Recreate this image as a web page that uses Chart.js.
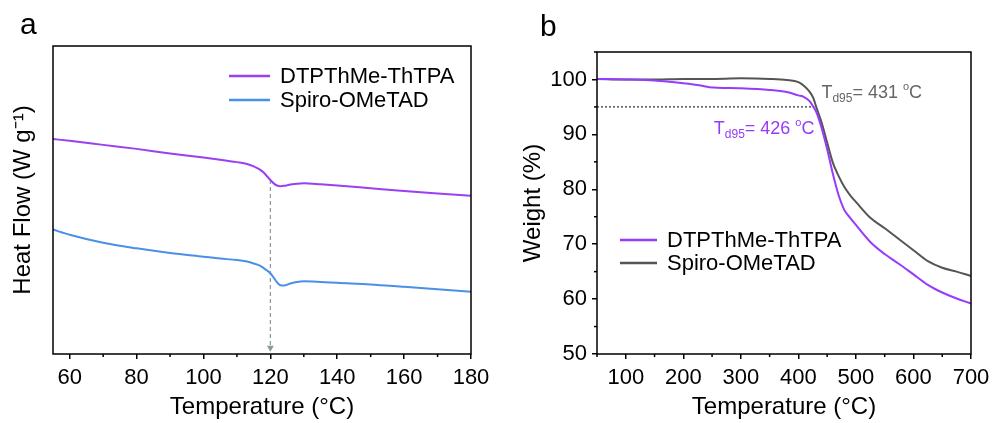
<!DOCTYPE html>
<html>
<head>
<meta charset="utf-8">
<script src="https://cdn.jsdelivr.net/npm/chart.js@4.4.1/dist/chart.umd.min.js"></script>
<style>
html, body { margin: 0; padding: 0; background: #fff; }
#wrap { position: relative; width: 992px; height: 423px; }
.pane { position: absolute; top: 0; width: 496px; height: 423px; }
</style>
</head>
<body>
<div id="wrap">
    <div class="pane" style="left:0"><canvas id="dscChart" width="496" height="423"></canvas></div>
    <div class="pane" style="left:496px"><canvas id="tgaChart" width="496" height="423"></canvas></div>
</div>
<script>
// panel a - DSC (heat flow, arbitrary units)
const dscTemp = [55, 60, 70, 80, 90, 100, 105, 110, 113, 115, 117, 118, 119, 120, 121, 122, 123, 124, 126, 128, 130, 135, 140, 150, 160, 170, 180];
const dscDTP = [69.8, 69.2, 67.9, 66.6, 65.1, 63.8, 63.1, 62.3, 61.7, 60.9, 59.8, 58.9, 57.7, 56.5, 55.4, 54.7, 54.5, 54.6, 55.0, 55.3, 55.4, 55.1, 54.7, 53.8, 52.9, 52.1, 51.4];
const dscSpiro = [40.4, 38.7, 36.1, 34.3, 32.8, 31.6, 31.0, 30.5, 30.0, 29.4, 28.6, 27.9, 27.1, 26.2, 24.8, 23.3, 22.3, 22.2, 22.9, 23.4, 23.6, 23.4, 23.1, 22.6, 21.8, 21.0, 20.2];
const dscXTicks = [60, 80, 100, 120, 140, 160, 180];
const tgMarker = 120;
const tgArrowY = [56.5, 2];

// panel b - TGA (weight %)
const tgaTemp = [50, 100, 150, 200, 230, 245, 300, 350, 380, 400, 410, 420, 426, 431, 440, 450, 460, 470, 480, 490, 500, 525, 550, 575, 600, 625, 650, 675, 700];
const tgaDTP = [100.1, 100.0, 99.8, 99.3, 98.9, 98.6, 98.4, 98.1, 97.7, 97.1, 96.8, 96.0, 95.0, 94.1, 91.3, 87.3, 82.8, 78.9, 76.2, 74.8, 73.5, 70.4, 68.2, 66.4, 64.5, 62.6, 61.2, 60.1, 59.2];
const tgaSpiro = [100.1, 100.0, 100.0, 100.1, 100.1, 100.1, 100.2, 100.1, 99.9, 99.5, 98.8, 97.7, 96.6, 95.0, 92.3, 88.5, 84.8, 82.4, 80.4, 78.9, 77.7, 74.8, 72.9, 70.9, 68.9, 66.9, 65.7, 65.0, 64.2];
const tgaXTicks = [100, 200, 300, 400, 500, 600, 700];
const tgaYTicks = [50, 60, 70, 80, 90, 100];
const d95Level = 95;
const d95Span = [50, 428];
const td95Spiro = 431;
const td95DTP = 426;

const seriesNames = ['DTPThMe-ThTPA', 'Spiro-OMeTAD'];

const FONT = "'Liberation Sans', Arial, sans-serif";
Chart.defaults.font.family = FONT;
Chart.defaults.color = '#000';

const pts = (xs, ys) => xs.map((x, i) => ({x: x, y: ys[i]}));

const curve = (label, xs, ys, color) => ({
    label: label,
    data: pts(xs, ys),
    borderColor: color,
    backgroundColor: color,
    borderWidth: 2,
    pointRadius: 0,
    cubicInterpolationMode: 'monotone'
});

// draws frame, minor ticks, legend, panel letter and notes
const decor = {
    id: 'decor',
    afterDatasetsDraw(chart, args, opts) {
        const ctx = chart.ctx;
        const a = chart.chartArea;
        ctx.save();
        ctx.strokeStyle = '#000';
        ctx.lineWidth = 1.5;

        // minor ticks
        const xs = chart.scales.x, ys = chart.scales.y;
        if (opts.minorX) {
            for (let v = Math.ceil(xs.min / opts.minorX) * opts.minorX; v <= xs.max; v += opts.minorX) {
                if (v % opts.majorX === 0) continue;
                const p = xs.getPixelForValue(v);
                ctx.beginPath(); ctx.moveTo(p, a.bottom); ctx.lineTo(p, a.bottom + 3); ctx.stroke();
            }
        }
        if (opts.minorY) {
            for (let v = Math.ceil(ys.min / opts.minorY) * opts.minorY; v <= ys.max; v += opts.minorY) {
                if (v % opts.majorY === 0) continue;
                const p = ys.getPixelForValue(v);
                ctx.beginPath(); ctx.moveTo(a.left - 3, p); ctx.lineTo(a.left, p); ctx.stroke();
            }
        }

        // frame
        ctx.strokeRect(a.left, a.top, a.right - a.left, a.bottom - a.top);

        // legend
        const lg = opts.legend;
        ctx.font = '22px ' + FONT;
        ctx.textBaseline = 'middle';
        ctx.textAlign = 'left';
        chart.data.datasets.filter(d => d.label).forEach((d, i) => {
            const y = lg.y + i * lg.gap;
            ctx.strokeStyle = d.borderColor;
            ctx.lineWidth = 2.5;
            ctx.beginPath(); ctx.moveTo(lg.x, y); ctx.lineTo(lg.x + lg.len, y); ctx.stroke();
            ctx.fillStyle = '#000';
            ctx.fillText(d.label, lg.x + lg.len + 10, y + 1);
        });

        // panel letter
        ctx.font = '30px ' + FONT;
        ctx.textBaseline = 'alphabetic';
        ctx.fillText(opts.letter.text, opts.letter.x, opts.letter.y);

        // T_d95 notes
        (opts.notes || []).forEach(n => {
            let x = xs.getPixelForValue(n.x);
            const y = ys.getPixelForValue(n.y);
            ctx.fillStyle = n.color;
            const part = (t, size, dy) => {
                ctx.font = size + 'px ' + FONT;
                ctx.fillText(t, x, y + dy);
                x += ctx.measureText(t).width;
            };
            part('T', 18, 0);
            part('d95', 12, 4);
            part('= ' + n.value + ' ', 18, 0);
            part('o', 11, -8);
            part('C', 18, 0);
        });
        ctx.restore();
    }
};

const tickFont = {family: FONT, size: 22};
const titleFont = {family: FONT, size: 24};
const setTicks = list => s => { s.ticks = list.map(v => ({value: v})); };

const config_DSC = {
    type: 'line',
    data: {
        datasets: [
            curve(seriesNames[0], dscTemp, dscDTP, '#9b3ff2'),
            curve(seriesNames[1], dscTemp, dscSpiro, '#4a90e6'),
            {
                data: pts([tgMarker, tgMarker], tgArrowY),
                borderColor: '#8a9a9c',
                backgroundColor: '#8a9a9c',
                borderWidth: 1.2,
                borderDash: [4, 3],
                pointStyle: 'triangle',
                pointRotation: 180,
                pointRadius: [0, 4],
                pointBorderWidth: 0
            }
        ]
    },
    options: {
        responsive: false,
        animation: false,
        events: [],
        layout: {padding: {left: 0, right: 25, top: 46, bottom: 0}},
        plugins: {
            legend: {display: false},
            tooltip: {enabled: false},
            decor: {
                minorX: 10, majorX: 20,
                legend: {x: 229, y: 76, gap: 24, len: 41},
                letter: {text: 'a', x: 20, y: 34},
                notes: []
            }
        },
        scales: {
            x: {
                type: 'linear', min: 55, max: 180,
                afterBuildTicks: setTicks(dscXTicks),
                afterFit: s => { s.height = 69; s.paddingLeft = 0; s.paddingRight = 0; },
                ticks: {font: tickFont, padding: 6, maxRotation: 0, autoSkip: false},
                grid: {drawOnChartArea: false, tickLength: 5, color: '#000', lineWidth: 1.5},
                border: {display: false},
                title: {display: true, text: 'Temperature (°C)', font: titleFont, padding: {top: 0, bottom: 1}}
            },
            y: {
                type: 'linear', min: 0, max: 100,
                afterFit: s => { s.width = 53; s.paddingTop = 0; s.paddingBottom = 0; },
                ticks: {display: false},
                grid: {display: false},
                border: {display: false},
                title: {display: true, text: 'Heat Flow (W g⁻¹)', font: titleFont, padding: {top: 9, bottom: 0}}
            }
        }
    },
    plugins: [decor]
};

const config_TGA = {
    type: 'line',
    data: {
        datasets: [
            curve(seriesNames[0], tgaTemp, tgaDTP, '#963cfa'),
            curve(seriesNames[1], tgaTemp, tgaSpiro, '#555555'),
            {
                data: pts(d95Span, [d95Level, d95Level]),
                borderColor: '#000',
                borderWidth: 1,
                borderDash: [2, 2],
                pointRadius: 0
            }
        ]
    },
    options: {
        responsive: false,
        animation: false,
        events: [],
        layout: {padding: {left: 0, right: 21, top: 52, bottom: 0}},
        plugins: {
            legend: {display: false},
            tooltip: {enabled: false},
            decor: {
                minorX: 50, majorX: 100, minorY: 5, majorY: 10,
                legend: {x: 124, y: 240, gap: 23, len: 37},
                letter: {text: 'b', x: 44, y: 36},
                notes: [
                    {x: 440, y: 96.7, value: td95Spiro, color: '#666666'},
                    {x: 253, y: 90.0, value: td95DTP, color: '#963cfa'}
                ]
            }
        },
        scales: {
            x: {
                type: 'linear', min: 50, max: 700,
                afterBuildTicks: setTicks(tgaXTicks),
                afterFit: s => { s.height = 69; s.paddingLeft = 0; s.paddingRight = 0; },
                ticks: {font: tickFont, padding: 6, maxRotation: 0, autoSkip: false},
                grid: {drawOnChartArea: false, tickLength: 5, color: '#000', lineWidth: 1.5},
                border: {display: false},
                title: {display: true, text: 'Temperature (°C)', font: titleFont, padding: {top: 0, bottom: 1}}
            },
            y: {
                type: 'linear', min: 50, max: 105,
                afterBuildTicks: setTicks(tgaYTicks),
                afterFit: s => { s.width = 101; s.paddingTop = 0; s.paddingBottom = 0; },
                ticks: {font: tickFont, padding: 5, autoSkip: false},
                grid: {drawOnChartArea: false, tickLength: 5, color: '#000', lineWidth: 1.5},
                border: {display: false},
                title: {display: true, text: 'Weight (%)', font: titleFont, padding: {top: 23, bottom: 0}}
            }
        }
    },
    plugins: [decor]
};

const myChart_DSC = new Chart(document.getElementById('dscChart'), config_DSC);
const myChart_TGA = new Chart(document.getElementById('tgaChart'), config_TGA);
</script>
</body>
</html>
